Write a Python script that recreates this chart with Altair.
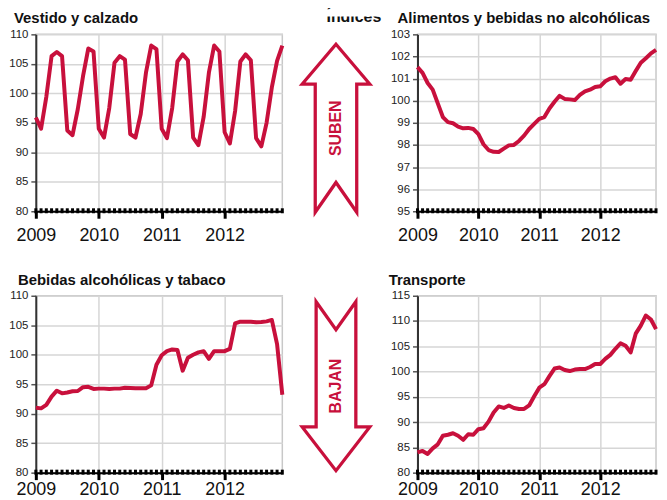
import altair as alt
import pandas as pd

# ---------------- data ----------------
months = list(range(48))            # Jan 2009 .. Dec 2012
year_ticks = [0, 12, 24, 36]
year_labels = ["2009", "2010", "2011", "2012"]

vestido = [95.9, 94.0, 99.4, 106.3, 107.0, 106.3, 93.7, 92.9, 97.3, 102.9, 107.6, 107.1,
           94.0, 92.5, 97.5, 105.2, 106.3, 105.7, 93.1, 92.5, 96.5, 103.5, 108.1, 107.5,
           94.0, 92.4, 97.5, 105.4, 106.6, 105.6, 92.5, 91.2, 96.0, 103.5, 108.1, 107.1,
           93.4, 91.5, 97.0, 105.4, 106.6, 105.6, 92.4, 91.0, 95.0, 101.0, 105.5, 108.1]

alimentos = [101.52, 101.26, 100.8, 100.5, 99.88, 99.26, 99.03, 98.98, 98.83, 98.75, 98.77, 98.72,
             98.49, 98.03, 97.77, 97.69, 97.68, 97.83, 97.98, 98.0, 98.18, 98.42, 98.72, 98.95,
             99.18, 99.26, 99.65, 99.95, 100.22, 100.08, 100.06, 100.03, 100.26, 100.42, 100.5, 100.62,
             100.65, 100.88, 101.0, 101.06, 100.77, 100.98, 100.95, 101.34, 101.72, 101.92, 102.14, 102.3]

bebidas = [91.0, 90.9, 91.5, 92.9, 93.9, 93.45, 93.6, 93.8, 93.85, 94.5, 94.55, 94.2,
           94.25, 94.25, 94.2, 94.25, 94.25, 94.4, 94.35, 94.3, 94.3, 94.3, 94.8, 98.3,
           99.9, 100.6, 100.9, 100.8, 97.3, 99.5, 100.0, 100.4, 100.6, 99.3, 100.6, 100.6,
           100.6, 101.0, 105.3, 105.6, 105.6, 105.6, 105.5, 105.55, 105.65, 105.9, 101.8, 93.2]

transporte = [84.0, 84.3, 83.7, 84.8, 85.6, 87.3, 87.5, 87.8, 87.3, 86.5, 87.6, 87.5,
              88.6, 88.8, 90.1, 91.9, 93.1, 92.8, 93.3, 92.8, 92.6, 92.6, 93.3, 95.1,
              96.8, 97.5, 99.1, 100.6, 100.8, 100.3, 100.1, 100.4, 100.5, 100.5, 100.9, 101.5,
              101.5, 102.5, 103.3, 104.5, 105.6, 105.1, 103.8, 107.5, 109.1, 111.1, 110.3, 108.4]

titles = ["Vestido y calzado", "Alimentos y bebidas no alcohólicas",
          "Bebidas alcohólicas y tabaco", "Transporte"]
main_title = "Índices"
arrow_words = ["SUBEN", "BAJAN"]

# ---------------- style ----------------
RED = "#C8103C"
FONT = "Liberation Sans"
GRID = "#d6d6d6"
W_LEFT, W_RIGHT, H = 248, 240, 178
MID_W, MID_H = 103, 445
TITLE_OFFSET = 2

label_expr = " : ".join(
    f"datum.value == {t} ? '{l}'" for t, l in zip(year_ticks, year_labels)
) + " : ''"


def panel(values, title, ymin, ymax, ystep, width, title_dx, label_pad):
    df = pd.DataFrame({"m": months, "v": values})
    xenc = alt.X(
        "m:Q",
        scale=alt.Scale(domain=[0, 47], nice=False, zero=False),
        axis=alt.Axis(values=year_ticks, labelExpr=label_expr, title=None,
                      labelFontSize=18, labelFont=FONT, labelColor="#111",
                      labelPadding=label_pad, labelFlush=False,
                      domainColor="#000", domainWidth=2,
                      tickColor="#000", tickWidth=3, tickSize=7,
                      grid=True, gridColor=GRID, gridWidth=1.5),
    )
    yenc = alt.Y(
        "v:Q",
        scale=alt.Scale(domain=[ymin, ymax], nice=False, zero=False),
        axis=alt.Axis(values=list(range(ymin, ymax + 1, ystep)), title=None,
                      labelFontSize=11.5, labelFont=FONT, labelColor="#222",
                      labelPadding=3,
                      domainColor="#333", domainWidth=2,
                      tickColor="#555", tickWidth=1.5, tickSize=5,
                      grid=True, gridColor=GRID, gridWidth=1.5),
    )
    line = alt.Chart(df).mark_line(color=RED, strokeWidth=4, strokeJoin="round").encode(x=xenc, y=yenc)
    mticks = alt.Chart(df).mark_rule(color="#000", strokeWidth=3).encode(
        x=xenc, y=alt.value(H - 3), y2=alt.value(H + 2))
    return alt.layer(line, mticks).properties(
        width=width, height=H,
        title=alt.TitleParams(title, anchor="start", frame="group", dx=title_dx,
                              fontSize=15, fontWeight="bold", font=FONT,
                              color="#111", offset=TITLE_OFFSET),
    )


tl = panel(vestido, titles[0], 80, 110, 5, W_LEFT, -22, 8)
tr = panel(alimentos, titles[1], 95, 103, 1, W_RIGHT, -20, 8)
bl = panel(bebidas, titles[2], 80, 110, 5, W_LEFT, -18, 1)
br = panel(transporte, titles[3], 80, 115, 5, W_RIGHT, -29, 1)

UP_PATH = ("M0,-1 L0.402,-0.527 L0.247,-0.527 L0.247,1 L0,0.645 "
           "L-0.247,1 L-0.247,-0.527 L-0.402,-0.527 Z")
DOWN_PATH = ("M-0.235,-1 L0,-0.67 L0.235,-1 L0.235,0.482 L0.40,0.482 "
             "L0,1 L-0.40,0.482 L-0.235,0.482 Z")

AX = 51          # arrow centre x inside the middle panel
UP_Y, DOWN_Y = 94.5, 354
TOP = -25        # svg top relative to the middle panel origin

mid_df = pd.DataFrame({"k": [0]})
mb = alt.Chart(mid_df)
up = mb.mark_point(shape=UP_PATH, size=28561, filled=False, color=RED,
                   strokeWidth=3.3, opacity=1).encode(x=alt.value(AX), y=alt.value(UP_Y))
down = mb.mark_point(shape=DOWN_PATH, size=28900, filled=False, color=RED,
                     strokeWidth=3.3, opacity=1).encode(x=alt.value(AX), y=alt.value(DOWN_Y))
t_up = mb.mark_text(text=arrow_words[0], angle=270, fontSize=16, fontWeight="bold",
                    color=RED, font=FONT, align="center", baseline="middle").encode(
    x=alt.value(AX), y=alt.value(UP_Y))
t_down = mb.mark_text(text=arrow_words[1], angle=270, fontSize=16, fontWeight="bold",
                      color=RED, font=FONT, align="center", baseline="middle").encode(
    x=alt.value(AX), y=alt.value(DOWN_Y))
t_main = mb.mark_text(text=main_title, fontSize=16, fontWeight="bold", color="#111",
                      font=FONT, align="center", baseline="top").encode(
    x=alt.value(69), y=alt.value(TOP))
cover = mb.mark_rect(color="white", opacity=1).encode(
    x=alt.value(20), x2=alt.value(MID_W), y=alt.value(TOP), y2=alt.value(TOP + 7))
mid = alt.layer(up, down, t_up, t_down, t_main, cover).properties(
    width=MID_W, height=MID_H, view=alt.ViewBackground(strokeOpacity=0))

left = alt.vconcat(tl, bl, spacing=27)
right = alt.vconcat(tr, br, spacing=27)

chart = alt.hconcat(left, mid, right, spacing=0).properties(
    padding=0, background="white"
).configure_view(stroke="#c8c8c8", strokeWidth=1.5)

chart.save("out.html", embed_options={"renderer": "svg", "actions": False})
